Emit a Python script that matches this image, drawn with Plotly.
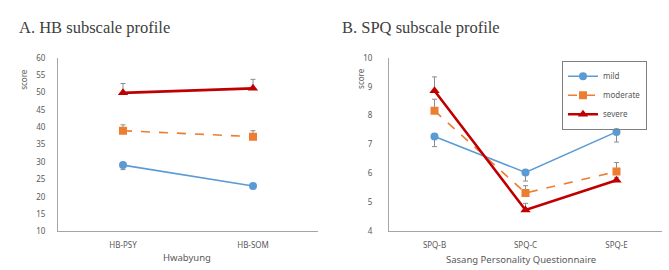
import plotly.graph_objects as go

# ---- data ----
hb_categories = ["HB-PSY", "HB-SOM"]
spq_categories = ["SPQ-B", "SPQ-C", "SPQ-E"]
groups = ["mild", "moderate", "severe"]

hb_mild = [29.1, 23.1]
hb_moderate = [39.0, 37.3]
hb_severe = [49.9, 51.2]
hb_mild_err = [1.3, 0.8]
hb_moderate_err = [1.7, 1.7]
hb_severe_err = [2.7, 2.6]

spq_mild = [7.28, 6.04, 7.44]
spq_moderate = [8.17, 5.33, 6.07]
spq_severe = [8.86, 4.74, 5.77]
spq_mild_err = [0.35, 0.3, 0.35]
spq_moderate_err = [0.4, 0.25, 0.31]
spq_severe_err = [0.48, 0.23, 0.1]

hb_ticks = [10, 15, 20, 25, 30, 35, 40, 45, 50, 55, 60]
spq_ticks = [4, 5, 6, 7, 8, 9, 10]

# ---- styles ----
W, H = 669, 270
styles = {
    "mild": dict(color="#5b9bd5", symbol="circle", size=8, width=1.6, dash="solid", down=True),
    "moderate": dict(color="#ed7d31", symbol="square", size=8, width=1.6, dash="dash", down=False),
    "severe": dict(color="#c00000", symbol="triangle-up", size=9, width=2.6, dash="solid", down=False),
}
ERR_COLOR = "#8c8c8c"
AXIS_COLOR = "#a6a6a6"
TICK_COLOR = "#595959"
FONT = "Noto Sans"

hb_vals = {"mild": (hb_mild, hb_mild_err), "moderate": (hb_moderate, hb_moderate_err),
           "severe": (hb_severe, hb_severe_err)}
spq_vals = {"mild": (spq_mild, spq_mild_err), "moderate": (spq_moderate, spq_moderate_err),
            "severe": (spq_severe, spq_severe_err)}

fig = go.Figure()


def add(cats, vals, err, g, xa, ya, show):
    s = styles[g]
    zeros = [0] * len(err)
    if s["down"]:
        ey = dict(type="data", symmetric=False, array=zeros, arrayminus=err)
    else:
        ey = dict(type="data", symmetric=False, array=err, arrayminus=zeros)
    ey.update(color=ERR_COLOR, thickness=1, width=2.5)
    fig.add_trace(go.Scatter(
        x=cats, y=vals, name=g, mode="lines+markers", xaxis=xa, yaxis=ya,
        showlegend=show, legendgroup=g,
        line=dict(color=s["color"], width=s["width"], dash=s["dash"]),
        marker=dict(color=s["color"], symbol=s["symbol"], size=s["size"]),
        error_y=ey,
    ))


for g in groups:
    add(hb_categories, hb_vals[g][0], hb_vals[g][1], g, "x", "y", False)
for g in groups:
    add(spq_categories, spq_vals[g][0], spq_vals[g][1], g, "x2", "y2", True)


def px_x(p):
    return p / W


def px_y(p):
    return (H - p) / H


common_x = dict(showgrid=False, zeroline=False, showline=True, linecolor=AXIS_COLOR, linewidth=1,
                ticks="", tickfont=dict(family=FONT, size=8, color=TICK_COLOR),
                ticklabelstandoff=6, type="category")
common_y = dict(showgrid=False, zeroline=False, showline=True, linecolor=AXIS_COLOR, linewidth=1,
                ticks="", tickfont=dict(family=FONT, size=8, color=TICK_COLOR))

fig.update_layout(
    width=W, height=H, margin=dict(l=0, r=0, t=0, b=0),
    paper_bgcolor="white", plot_bgcolor="white",
    xaxis=dict(domain=[px_x(58), px_x(318)], range=[-0.5, 1.5], anchor="y", **common_x),
    yaxis=dict(domain=[px_y(235), px_y(54)], range=[10, 60], tickvals=hb_ticks, anchor="x",
               ticklabelstandoff=10, **common_y),
    xaxis2=dict(domain=[px_x(389), px_x(662)], range=[-0.5, 2.5], anchor="y2", **common_x),
    yaxis2=dict(domain=[px_y(235), px_y(54)], range=[4, 10], tickvals=spq_ticks, anchor="x2",
                ticklabelstandoff=14, **common_y),
    legend=dict(x=px_x(562), y=px_y(57), xanchor="left", yanchor="top",
                bordercolor="#7f7f7f", borderwidth=1, bgcolor="rgba(255,255,255,0)",
                font=dict(family=FONT, size=8, color=TICK_COLOR),
                itemwidth=30, tracegroupgap=0),
    showlegend=True,
)

ann = [
    dict(text="A. HB subscale profile", x=px_x(17), y=px_y(22), xanchor="left", yanchor="middle",
         font=dict(family="Liberation Serif", size=16.5, color="#404040")),
    dict(text="B. SPQ subscale profile", x=px_x(340), y=px_y(22), xanchor="left", yanchor="middle",
         font=dict(family="Liberation Serif", size=16.5, color="#404040")),
    dict(text="score", x=px_x(24), y=px_y(77), xanchor="center", yanchor="middle", textangle=-90,
         font=dict(family=FONT, size=8, color=TICK_COLOR)),
    dict(text="score", x=px_x(361), y=px_y(76), xanchor="center", yanchor="middle", textangle=-90,
         font=dict(family=FONT, size=8, color=TICK_COLOR)),
    dict(text="Hwabyung", x=px_x(187), y=px_y(262), xanchor="center", yanchor="middle",
         font=dict(family=FONT, size=9.5, color=TICK_COLOR)),
    dict(text="Sasang Personality Questionnaire", x=px_x(521), y=px_y(264), xanchor="center",
         yanchor="middle", font=dict(family=FONT, size=9.5, color=TICK_COLOR)),
]
for a in ann:
    a.update(xref="paper", yref="paper", showarrow=False)
fig.update_layout(annotations=ann)

fig.write_html("out.html")
